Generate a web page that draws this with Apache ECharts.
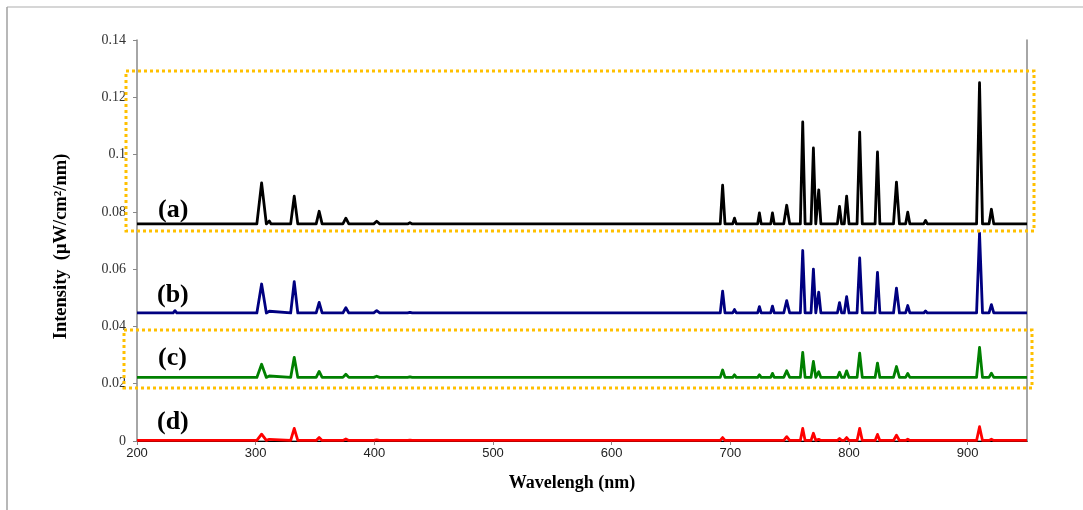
<!DOCTYPE html>
<html>
<head>
<meta charset="utf-8">
<script src="https://cdn.jsdelivr.net/npm/echarts@6/dist/echarts.min.js"></script>
<style>
  html,body{margin:0;padding:0;background:#fff;}
  #main{width:1083px;height:510px;}
</style>
</head>
<body>
<div id="main"></div>
<script>
// emission lines (nm) and their half width at the base (nm)
var peakNm    = [232, 243, 254.5, 267, 305, 311.5, 332.5, 353.5, 376, 402, 430,
                 693.5, 703.5, 724.5, 735.5, 747.5, 761, 770, 774.5, 792, 798, 809, 824, 840, 849.5, 864.5, 910, 920, 934];
var halfWidth = [1.5, 1.5, 1.5, 1.5, 4, 1.5, 3, 2.5, 2.5, 2.5, 2,
                 2, 1.5, 1.5, 1.5, 2.5, 2, 2, 1.8, 1.8, 2, 2.2, 2, 2.5, 1.8, 1.5, 2.5, 2, 1.5];

// baseline of each spectrum
var baseA = 0.0758, baseB = 0.0447, baseC = 0.0222, baseD = 0.0002;

// peak top values of each spectrum, same order as peakNm
var peakA = [0.0762, 0.0761, 0.0760, 0.0760, 0.0901, 0.0768, 0.0855, 0.0802, 0.0778, 0.0767, 0.0762,
             0.0893, 0.0778, 0.0796, 0.0796, 0.0823, 0.1114, 0.1023, 0.0877, 0.0819, 0.0855, 0.1078, 0.1009, 0.0904, 0.0799, 0.0770, 0.1251, 0.0809, 0.0762];
var peakB = [0.0455, 0.0453, 0.0451, 0.0449, 0.0548, 0.0453, 0.0556, 0.0484, 0.0465, 0.0455, 0.0449,
             0.0523, 0.0459, 0.0469, 0.0471, 0.0490, 0.0665, 0.0600, 0.0520, 0.0483, 0.0504, 0.0639, 0.0589, 0.0534, 0.0473, 0.0454, 0.0726, 0.0476, 0.0449];
var peakC = [0.0226, 0.0226, 0.0225, 0.0224, 0.0268, 0.0227, 0.0292, 0.0243, 0.0233, 0.0226, 0.0224,
             0.0248, 0.0231, 0.0231, 0.0236, 0.0245, 0.0309, 0.0278, 0.0242, 0.0240, 0.0245, 0.0307, 0.0272, 0.0260, 0.0236, 0.0226, 0.0327, 0.0237, 0.0224];
var peakD = [0.0004, 0.0004, 0.0003, 0.0003, 0.0024, 0.0006, 0.0044, 0.0012, 0.0007, 0.0004, 0.0003,
             0.0012, 0.0004, 0.0005, 0.0006, 0.0015, 0.0044, 0.0027, 0.0006, 0.0009, 0.0012, 0.0044, 0.0023, 0.0020, 0.0006, 0.0003, 0.0050, 0.0006, 0.0003];

var xMin = 200, xMax = 950;
var yTicks = [0, 0.02, 0.04, 0.06, 0.08, 0.1, 0.12, 0.14];

// each line: baseline, then base / top / base for every peak
function spectrum(base, peaks){
  var pts = [[xMin, base]];
  for (var i = 0; i < peakNm.length; i++) {
    pts.push([peakNm[i] - halfWidth[i], base]);
    pts.push([peakNm[i], peaks[i]]);
    pts.push([peakNm[i] + halfWidth[i], base]);
  }
  pts.push([xMax, base]);
  return pts;
}

function line(name, color, base, peaks){
  return {
    name: name,
    type: 'line',
    data: spectrum(base, peaks),
    showSymbol: false,
    symbol: 'none',
    lineStyle: {color: color, width: 2.8, join: 'round'},
    z: 3
  };
}

var serif = '"Liberation Serif", "Times New Roman", serif';
var sans = '"Liberation Sans", Arial, sans-serif';

var myChart = echarts.init(document.getElementById('main'));
var option = {
  animation: false,
  grid: {left: 137, right: 56, top: 40, bottom: 69, containLabel: false},
  xAxis: [{
    type: 'value',
    min: xMin, max: xMax, interval: 100,
    name: 'Wavelengh (nm)',
    nameLocation: 'middle',
    nameGap: 33,
    nameTextStyle: {fontFamily: serif, fontWeight: 'bold', fontSize: 18, color: '#000', padding: [0, 20, 0, 0]},
    axisLine: {onZero: false, lineStyle: {color: '#888', width: 1.5}},
    axisTick: {show: true, inside: false, length: 4, lineStyle: {color: '#888'}},
    axisLabel: {fontFamily: sans, fontSize: 13, color: '#222', margin: 6, showMaxLabel: false},
    splitLine: {show: false}
  }, {
    type: 'value', position: 'top',
    min: xMin, max: xMax,
    axisLine: {show: true, lineStyle: {color: '#000', width: 1.2}},
    axisTick: {show: false}, axisLabel: {show: false}, splitLine: {show: false}
  }],
  yAxis: [{
    type: 'value',
    min: yTicks[0], max: yTicks[yTicks.length - 1], interval: 0.02,
    name: 'Intensity  (μW/cm²/nm)',
    nameLocation: 'middle',
    nameGap: 66,
    nameTextStyle: {fontFamily: serif, fontWeight: 'bold', fontSize: 18.5, color: '#000', padding: [0, 12, 0, 0]},
    axisLine: {show: true, lineStyle: {color: '#888', width: 1.5}},
    axisTick: {show: true, inside: false, length: 4, lineStyle: {color: '#888'}},
    axisLabel: {fontFamily: serif, fontSize: 14, color: '#333', margin: 11},
    splitLine: {show: false}
  }, {
    type: 'value', position: 'right',
    min: yTicks[0], max: yTicks[yTicks.length - 1],
    axisLine: {show: true, lineStyle: {color: '#888', width: 1.5}},
    axisTick: {show: false}, axisLabel: {show: false}, splitLine: {show: false}
  }],
  series: [
    line('(a)', '#000000', baseA, peakA),
    line('(b)', '#000080', baseB, peakB),
    line('(c)', '#008000', baseC, peakC),
    line('(d)', '#ff0000', baseD, peakD)
  ],
  graphic: [
    // outer frame (top and left only)
    {type: 'line', shape: {x1: 7, y1: 7, x2: 1083, y2: 7}, style: {stroke: '#c8c8c8', lineWidth: 1.5}},
    {type: 'line', shape: {x1: 7, y1: 7, x2: 7, y2: 510}, style: {stroke: '#a0a0a0', lineWidth: 1.5}},
    // dotted highlight boxes
    {type: 'rect', shape: {x: 126, y: 71, width: 908, height: 160},
     style: {fill: null, stroke: '#ffc000', lineWidth: 3, lineDash: [3, 3]}, z: 10},
    {type: 'rect', shape: {x: 124, y: 330, width: 908, height: 58},
     style: {fill: null, stroke: '#ffc000', lineWidth: 3, lineDash: [3, 3]}, z: 10},
    // spectrum labels
    {type: 'text', left: 158, top: 197, style: {text: '(a)', font: 'bold 26px ' + serif, fill: '#000'}},
    {type: 'text', left: 157, top: 282, style: {text: '(b)', font: 'bold 26px ' + serif, fill: '#000'}},
    {type: 'text', left: 158, top: 345, style: {text: '(c)', font: 'bold 26px ' + serif, fill: '#000'}},
    {type: 'text', left: 157, top: 409, style: {text: '(d)', font: 'bold 26px ' + serif, fill: '#000'}}
  ]
};
myChart.setOption(option);
</script>
</body>
</html>
